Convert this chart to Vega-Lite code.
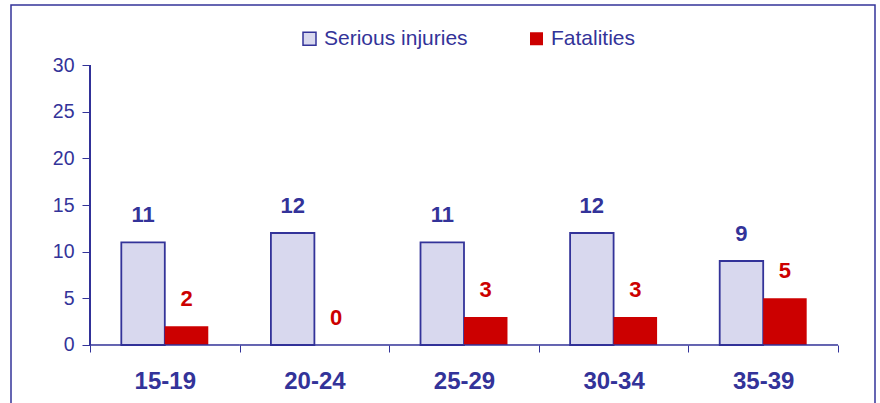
{
  "$schema": "https://vega.github.io/schema/vega-lite/v6.json",
  "width": 864,
  "height": 400,
  "autosize": {"type": "none"},
  "padding": {"left": 11, "top": 5, "right": 5, "bottom": 0},
  "background": "white",
  "config": {
    "view": {"stroke": "#333399", "strokeWidth": 1.5},
    "font": "Liberation Sans",
    "text": {"font": "Liberation Sans"}
  },
  "data": {
    "values": [
      {"age": "15-19", "series": "Serious injuries", "value": 11},
      {"age": "15-19", "series": "Fatalities", "value": 2},
      {"age": "20-24", "series": "Serious injuries", "value": 12},
      {"age": "20-24", "series": "Fatalities", "value": 0},
      {"age": "25-29", "series": "Serious injuries", "value": 11},
      {"age": "25-29", "series": "Fatalities", "value": 3},
      {"age": "30-34", "series": "Serious injuries", "value": 12},
      {"age": "30-34", "series": "Fatalities", "value": 3},
      {"age": "35-39", "series": "Serious injuries", "value": 9},
      {"age": "35-39", "series": "Fatalities", "value": 5}
    ]
  },
  "layer": [
    {
      "mark": {"type": "bar", "strokeWidth": 1.8},
      "encoding": {
        "x": {
          "field": "age", "type": "nominal", "sort": null,
          "scale": {"paddingInner": 0, "paddingOuter": 0.3877, "align": 0.681},
          "axis": {
            "title": null, "orient": "bottom", "offset": -60, "domain": false,
            "tickBand": "extent", "ticks": true, "tickSize": 7, "tickColor": "#333399", "tickWidth": 1,
            "labelFont": "Liberation Sans", "labelFontSize": 24, "labelFontWeight": "bold",
            "labelColor": "#333399", "labelPadding": 17, "labelAngle": 0, "grid": false
          }
        },
        "xOffset": {
          "field": "series", "type": "nominal", "sort": ["Serious injuries", "Fatalities"],
          "scale": {"paddingInner": 0, "paddingOuter": 0.72}
        },
        "y": {
          "field": "value", "type": "quantitative",
          "scale": {"domain": [-6.4286, 36.4286], "nice": false, "zero": false},
          "axis": {
            "title": null, "orient": "left", "offset": -79, "domain": false,
            "values": [0, 5, 10, 15, 20, 25, 30], "tickSize": 8, "tickColor": "#333399", "tickWidth": 1,
            "labelFont": "Liberation Sans", "labelFontSize": 19.5, "labelColor": "#333399",
            "labelPadding": 8, "grid": false
          }
        },
        "fill": {
          "field": "series", "type": "nominal",
          "scale": {"domain": ["Serious injuries", "Fatalities"], "range": ["#d8d8ee", "#cc0000"]},
          "legend": {
            "orient": "none", "legendX": 288, "legendY": 23, "direction": "horizontal",
            "title": null, "symbolType": "square", "symbolSize": 169, "symbolStrokeWidth": 1.5,
            "labelFont": "Liberation Sans", "labelFontSize": 21, "labelColor": "#333399",
            "columnPadding": 58, "labelOffset": 4, "padding": 0
          }
        },
        "stroke": {
          "field": "series", "type": "nominal",
          "scale": {"domain": ["Serious injuries", "Fatalities"], "range": ["#333399", "rgba(0,0,0,0)"]},
          "legend": {
            "orient": "none", "legendX": 288, "legendY": 23, "direction": "horizontal",
            "title": null, "symbolType": "square", "symbolSize": 169, "symbolStrokeWidth": 1.5,
            "labelFont": "Liberation Sans", "labelFontSize": 21, "labelColor": "#333399",
            "columnPadding": 58, "labelOffset": 4, "padding": 0
          }
        }
      }
    },
    {
      "transform": [{"filter": "datum.series == 'Fatalities'"}],
      "mark": {"type": "rect", "fillOpacity": 0, "stroke": "#333399", "strokeWidth": 1},
      "encoding": {
        "x": {"field": "age", "type": "nominal", "sort": null},
        "y": {"datum": 0, "type": "quantitative"},
        "y2": {"datum": 0}
      }
    },
    {
      "mark": {"type": "rule", "color": "#333399", "strokeWidth": 1},
      "encoding": {
        "x": {"datum": "15-19", "type": "nominal", "bandPosition": 0},
        "y": {"datum": 0, "type": "quantitative"},
        "y2": {"datum": 30}
      }
    },
    {
      "mark": {"type": "text", "dy": -27, "fontSize": 22, "fontWeight": "bold", "baseline": "middle", "font": "Liberation Sans"},
      "encoding": {
        "x": {"field": "age", "type": "nominal", "sort": null},
        "xOffset": {"field": "series", "type": "nominal", "sort": ["Serious injuries", "Fatalities"]},
        "y": {"field": "value", "type": "quantitative"},
        "text": {"field": "value", "type": "quantitative"},
        "color": {
          "field": "series", "type": "nominal",
          "scale": {"domain": ["Serious injuries", "Fatalities"], "range": ["#333399", "#cc0000"]},
          "legend": null
        }
      }
    }
  ]
}
